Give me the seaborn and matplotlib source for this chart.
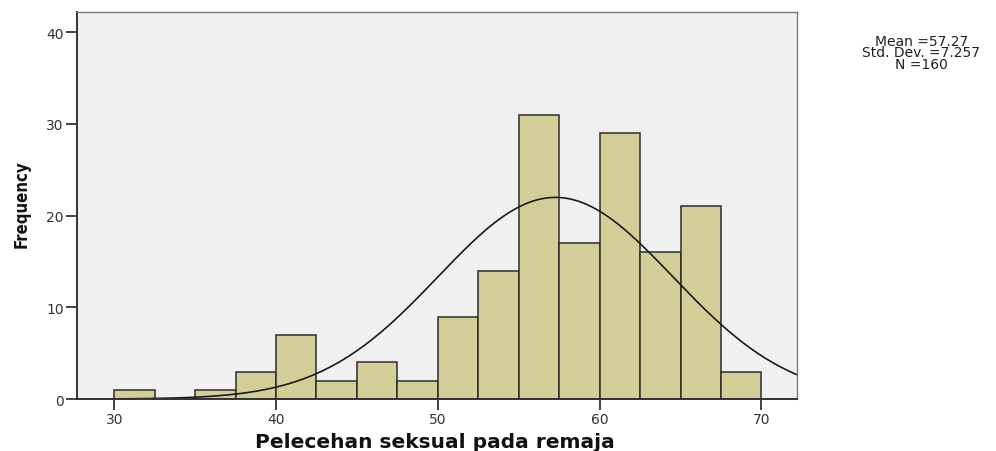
import numpy as np
import pandas as pd
import matplotlib
matplotlib.use("Agg")
import matplotlib.pyplot as plt
import seaborn as sns

# -----------------------------
# DATA
# -----------------------------
bin_edges = [30, 32.5, 35, 37.5, 40, 42.5, 45, 47.5, 50, 52.5,
             55, 57.5, 60, 62.5, 65, 67.5, 70]
counts = [1, 0, 1, 3, 7, 2, 4, 2, 9, 14, 31, 17, 29, 16, 21, 3]
mean_val = 57.27
std_val = 7.257
n_total = 160
x_ticks = [30, 40, 50, 60, 70]
y_ticks = [0, 10, 20, 30, 40]

bin_mid = [(a + b) / 2 for a, b in zip(bin_edges[:-1], bin_edges[1:])]
df = pd.DataFrame({"score": bin_mid, "freq": counts})

# -----------------------------
# PLOT
# -----------------------------
sns.set_style("white")
plt.rcParams["font.family"] = ["DejaVu Sans"]

fig = plt.figure(figsize=(9.96, 4.52), dpi=100)
ax = fig.add_axes([0.0773, 0.115, 0.7229, 0.856])
ax.set_facecolor("#f0f0f0")

sns.histplot(data=df, x="score", weights="freq", bins=bin_edges,
             color="#d3ce97", edgecolor="#2b2b2b", linewidth=1.1,
             alpha=1, ax=ax)

# fitted normal curve
xs = np.linspace(27.7, 72.2, 400)
width = bin_edges[1] - bin_edges[0]
ys = n_total * width / (std_val * np.sqrt(2 * np.pi)) * np.exp(-0.5 * ((xs - mean_val) / std_val) ** 2)
sns.lineplot(x=xs, y=ys, color="#1a1a1a", linewidth=1.2, ax=ax)

ax.set_xlim(27.7, 72.2)
ax.set_ylim(0, 42.2)
ax.set_xticks(x_ticks)
ax.set_yticks(y_ticks)
ax.tick_params(axis="both", bottom=True, left=True, direction="out",
               length=8, width=1.3, color="#333333", labelsize=10,
               labelcolor="#333333", pad=1.5)

for side in ["left", "bottom"]:
    ax.spines[side].set_color("#333333")
    ax.spines[side].set_linewidth(1.4)
for side in ["top", "right"]:
    ax.spines[side].set_color("#777777")
    ax.spines[side].set_linewidth(1.0)

ax.set_xlabel("Pelecehan seksual pada remaja", fontsize=14.5, fontweight="bold",
              color="#111111")
ax.xaxis.set_label_coords(0.497, -0.085)
ax.set_ylabel("Frequency", fontsize=12, fontweight="bold", color="#111111",
              fontstretch="condensed")
ax.yaxis.set_label_coords(-0.065, 0.505)

fig.text(0.925, 0.882, "Mean =57.27\nStd. Dev. =7.257\nN =160",
         ha="center", va="center", fontsize=10, linespacing=0.78,
         color="#222222")

plt.savefig("out.png", dpi=100)
